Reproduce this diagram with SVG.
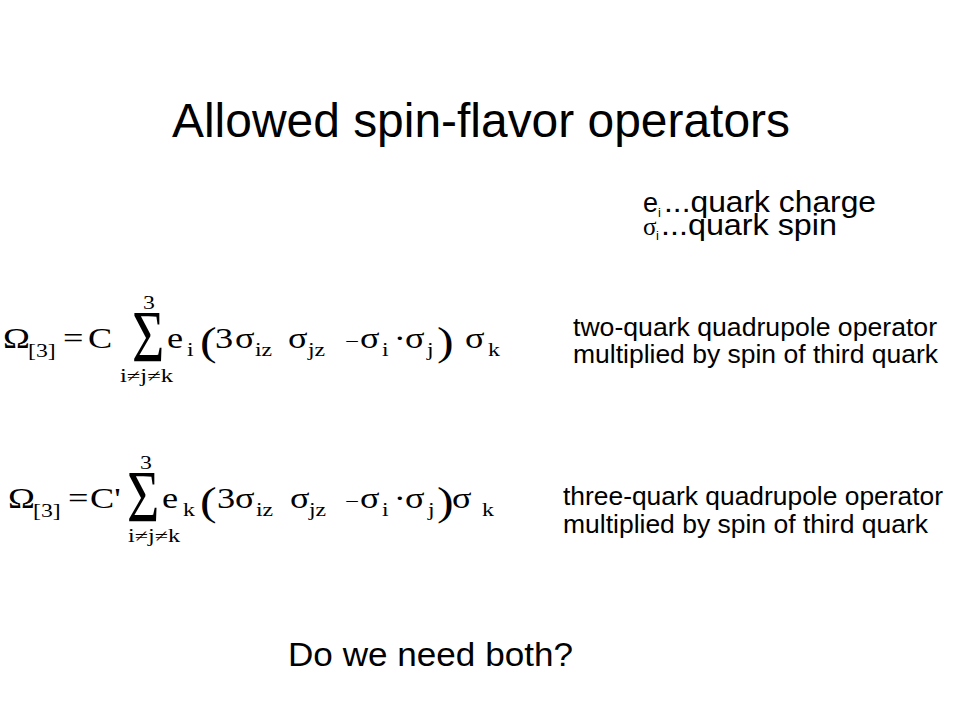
<svg xmlns="http://www.w3.org/2000/svg" width="960" height="720" viewBox="0 0 960 720">
<style>
.sans{font-family:"Liberation Sans",Arial,sans-serif;fill:#000}
.m{font-family:"Liberation Serif","Times New Roman",serif;fill:#000}
.f{font-size:29px}
.mi{font-size:20px}
.s{font-size:19px}
.l{font-size:18px}
.p{font-size:40px}
.S{font-size:74px}
.t{font-size:19px}
</style>
<rect width="960" height="720" fill="#fff"/>
<g id="title"><text class="sans" x="172" y="137" font-size="48" textLength="618" lengthAdjust="spacingAndGlyphs">Allowed spin-flavor operators</text></g>
<g id="legend">
<text class="sans" x="643" y="212" style="font-size:27px">e<tspan x="658" dy="5" style="font-size:13px">i</tspan><tspan x="664" dy="-5" textLength="212" lengthAdjust="spacingAndGlyphs" style="font-size:29px">...quark charge</tspan></text>
<text class="sans" x="643" y="235"><tspan class="m" style="font-size:25px">σ</tspan><tspan x="656" dy="5" style="font-size:13px">i</tspan><tspan x="661" dy="-5" textLength="176" lengthAdjust="spacingAndGlyphs" style="font-size:29px">...quark  spin</tspan></text>
</g>
<g id="formula1" transform="scale(1.25,1)">
<text class="m f" x="2.4" y="348">Ω</text>
<text class="m s" x="22.4" y="357">[3]</text>
<text class="m f" x="50.4" y="348">=</text>
<text class="m f" x="70.4" y="348">C</text>
<text class="m S" transform="translate(105.6,362) scale(0.6,1)">Σ</text>
<text class="m t" x="114.4" y="309">3</text>
<text class="m l" x="96" y="382" textLength="42.4" lengthAdjust="spacingAndGlyphs">i≠j≠k</text>
<text class="m f" x="133.6" y="348">e</text>
<text class="m s" x="149.6" y="356">i</text>
<text class="m p" x="160" y="355">(</text>
<text class="m f" x="172" y="348">3</text>
<text class="m f" x="188" y="348">σ</text>
<text class="m s" x="204" y="356">iz</text>
<text class="m f" x="230.4" y="348">σ</text>
<text class="m s" x="246.4" y="356">jz</text>
<text class="m mi" x="276" y="348">−</text>
<text class="m f" x="288" y="348">σ</text>
<text class="m s" x="305.6" y="356">i</text>
<text class="m f" x="315" y="348">·</text>
<text class="m f" x="324" y="348">σ</text>
<text class="m s" x="341.6" y="356">j</text>
<text class="m p" x="349.6" y="355">)</text>
<text class="m f" x="372" y="348">σ</text>
<text class="m s" x="390.4" y="356">k</text>
</g>
<g id="formula2" transform="scale(1.25,1)">
<text class="m f" x="6.4" y="508">Ω</text>
<text class="m s" x="26.4" y="517">[3]</text>
<text class="m f" x="54.4" y="508">=</text>
<text class="m f" x="72" y="508">C'</text>
<text class="m S" transform="translate(101.6,522) scale(0.6,1)">Σ</text>
<text class="m t" x="112" y="469">3</text>
<text class="m l" x="102.4" y="542" textLength="41.6" lengthAdjust="spacingAndGlyphs">i≠j≠k</text>
<text class="m f" x="129.6" y="508">e</text>
<text class="m s" x="146.4" y="516">k</text>
<text class="m p" x="160" y="515">(</text>
<text class="m f" x="173.6" y="508">3</text>
<text class="m f" x="188" y="508">σ</text>
<text class="m s" x="204.8" y="516">iz</text>
<text class="m f" x="232" y="508">σ</text>
<text class="m s" x="247.2" y="516">jz</text>
<text class="m mi" x="276" y="508">−</text>
<text class="m f" x="288" y="508">σ</text>
<text class="m s" x="305.6" y="516">i</text>
<text class="m f" x="315" y="508">·</text>
<text class="m f" x="324" y="508">σ</text>
<text class="m s" x="342.4" y="516">j</text>
<text class="m p" x="349.6" y="515">)</text>
<text class="m f" x="361.6" y="508">σ</text>
<text class="m s" x="385.6" y="516">k</text>
</g>
<g id="label1">
<text class="sans" x="573" y="336" font-size="26" textLength="364" lengthAdjust="spacingAndGlyphs">two-quark quadrupole operator</text>
<text class="sans" x="573" y="363" font-size="26" textLength="365" lengthAdjust="spacingAndGlyphs">multiplied by spin of third quark</text>
</g>
<g id="label2">
<text class="sans" x="563" y="505" font-size="26" textLength="380" lengthAdjust="spacingAndGlyphs">three-quark quadrupole operator</text>
<text class="sans" x="563" y="533" font-size="26" textLength="365" lengthAdjust="spacingAndGlyphs">multiplied by spin of third quark</text>
</g>
<g id="question"><text class="sans" x="288" y="666" font-size="33" textLength="285" lengthAdjust="spacingAndGlyphs">Do we need both?</text></g>
<g id="connectors"/>
</svg>
